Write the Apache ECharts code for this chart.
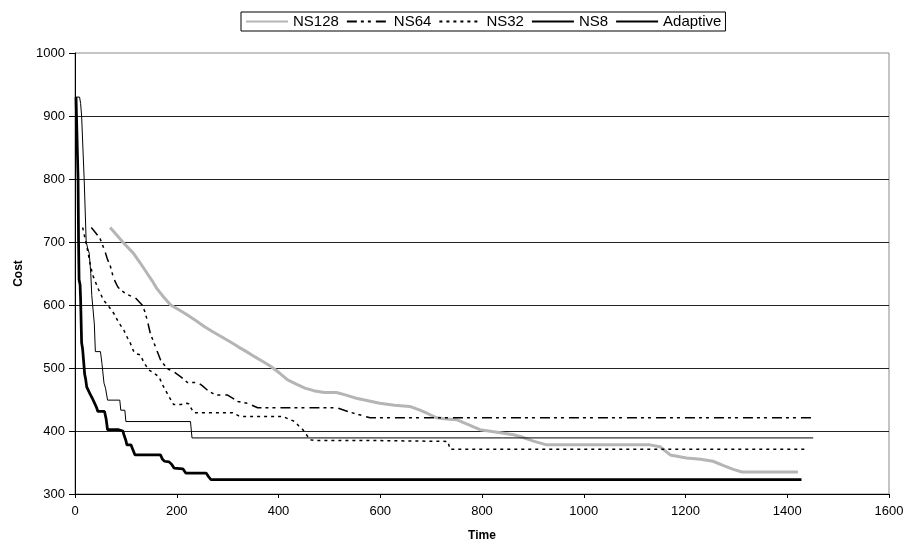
<!DOCTYPE html>
<html>
<head>
<meta charset="utf-8">
<script src="https://cdn.jsdelivr.net/npm/echarts@6/dist/echarts.min.js"></script>
<style>
html,body{margin:0;padding:0;background:#fff;}
#chart{width:908px;height:540px;}
</style>
</head>
<body>
<div id="chart"></div>
<script>
// ---- data: [time, cost] pairs ----
const seriesNames = ['NS128', 'NS64', 'NS32', 'NS8', 'Adaptive'];

const ns128 = [[69,723],[82,711],[96,698],[115,682],[128,667],[142,650],[152,638],[161,626],[175,612],[188,600],
  [205,592],[221,584],[238,575],[254,566],[270,558],[287,550],[304,542],[320,534],[337,526],[353,518],[370,510],
  [386,502],[402,492],[418,481],[436,474],[452,468],[469,464],[490,461],[514,461],[533,457],[553,452],[576,448],
  [599,444],[628,441],[658,439],[678,433],[695,427],[711,421],[730,419],[750,418],[773,410],[796,402],[830,398],
  [862,394],[880,390],[901,384],[927,378],[1130,378],[1150,375],[1170,362],[1202,357],[1230,355],[1254,352],
  [1275,345],[1294,339],[1311,335],[1421,335]];

const ns64 = [[32,723],[40,715],[49,706],[59,685],[64,672],[69,663],[74,648],[79,637],[84,629],[89,624],[102,617],
  [119,611],[132,600],[137,590],[142,576],[148,555],[158,534],[168,513],[181,499],[194,494],[208,486],[221,477],
  [241,477],[250,472],[260,465],[270,460],[280,457],[300,457],[320,447],[339,444],[359,437],[514,437],[540,430],
  [580,421],[1451,421]];

const ns32 = [[15,723],[20,705],[26,682],[31,660],[36,645],[46,625],[56,608],[66,598],[76,587],[86,572],[96,560],
  [103,548],[109,539],[115,527],[119,523],[128,521],[136,508],[145,497],[155,492],[165,486],[173,472],[181,460],
  [188,450],[194,442],[208,442],[220,444],[224,443],[229,435],[234,429],[310,429],[322,424],[329,423],[409,423],
  [420,419],[432,415],[440,408],[448,402],[455,394],[462,386],[470,385],[577,385],[580,383.5],[733,383.5],
  [737,371],[1441,371]];

const ns8 = [[1,930],[9,930],[11,920],[13,900],[18,800],[22,700],[25,690],[28,682],[31,650],[33,615],[36,614],
  [38,570],[40,526],[50,526],[53,507],[57,476],[60,468],[64,449],[88,449],[90,433],[98,433],[100,415],[227,415],
  [230,389],[1451,389]];

const adaptive = [[2,930],[5,930],[6,800],[7,700],[8,640],[10,632],[11,610],[13,540],[15,530],[17,510],[19,490],
  [21,482],[23,470],[26,465],[30,458],[34,452],[38,445],[42,438],[45,431],[58,431],[61,420],[64,402],[86,402],
  [94,400],[97,392],[100,385],[102,378],[110,378],[113,372],[118,362],[168,362],[172,355],[176,352],[185,351],
  [190,347],[195,341],[212,340],[218,333],[258,333],[262,328],[267,323],[1428,323]];

const xTicks = {min: 0, max: 1600, step: 200};
const yTicks = {min: 300, max: 1000, step: 100};

const FONT = '"Liberation Sans", Arial, sans-serif';

const chart = echarts.init(document.getElementById('chart'), null, {renderer: 'canvas'});

function line(name, data, color, width, type) {
  return {
    name: name, type: 'line', data: data, symbol: 'none', animation: false,
    lineStyle: {color: color, width: width, type: type},
    itemStyle: {color: color},
    z: 3
  };
}

const option = {
  backgroundColor: '#fff',
  animation: false,
  textStyle: {fontFamily: FONT},
  grid: {left: 75, right: 19, top: 53, bottom: 46, containLabel: false, outerBoundsMode: 'none',
         show: true, borderColor: '#8a8a8a', borderWidth: 1, backgroundColor: '#fff'},
  legend: {
    data: seriesNames,
    left: 241, top: 12,
    orient: 'horizontal',
    itemWidth: 42, itemHeight: 12, itemGap: 7,
    padding: [2, 4, 2, 4],
    borderColor: '#000', borderWidth: 1,
    itemStyle: {opacity: 0, borderWidth: 0},
    textStyle: {fontFamily: FONT, fontSize: 15, color: '#000'}
  },
  xAxis: {
    type: 'value', min: xTicks.min, max: xTicks.max, interval: xTicks.step,
    name: 'Time', nameLocation: 'middle', nameGap: 36,
    nameTextStyle: {fontFamily: FONT, fontSize: 12, fontWeight: 'bold', color: '#000'},
    axisLine: {show: true, onZero: false, lineStyle: {color: '#000', width: 1}},
    axisTick: {show: true, inside: false, length: 4, lineStyle: {color: '#000'}},
    axisLabel: {fontFamily: FONT, fontSize: 13, color: '#000', margin: 11, formatter: v => String(v)},
    splitLine: {show: false}
  },
  yAxis: {
    type: 'value', min: yTicks.min, max: yTicks.max, interval: yTicks.step,
    name: 'Cost', nameLocation: 'middle', nameGap: 47, nameRotate: 90,
    nameTextStyle: {fontFamily: FONT, fontSize: 12, fontWeight: 'bold', color: '#000'},
    axisLine: {show: true, onZero: false, lineStyle: {color: '#000', width: 1}},
    axisTick: {show: true, inside: false, length: 6, lineStyle: {color: '#000'}},
    axisLabel: {fontFamily: FONT, fontSize: 13, color: '#000', margin: 10, formatter: v => String(v)},
    splitLine: {show: true, showMinLine: false, showMaxLine: false, lineStyle: {color: '#222', width: 1}}
  },
  series: [
    line('NS128', ns128, '#b5b5b5', 3, 'solid'),
    line('NS64', ns64, '#000', 1.5, [10, 4, 3, 4, 3, 5]),
    line('NS32', ns32, '#000', 1.5, [3, 4]),
    line('NS8', ns8, '#000', 1, 'solid'),
    line('Adaptive', adaptive, '#000', 2.75, 'solid')
  ]
};
chart.setOption(option);
</script>
</body>
</html>
